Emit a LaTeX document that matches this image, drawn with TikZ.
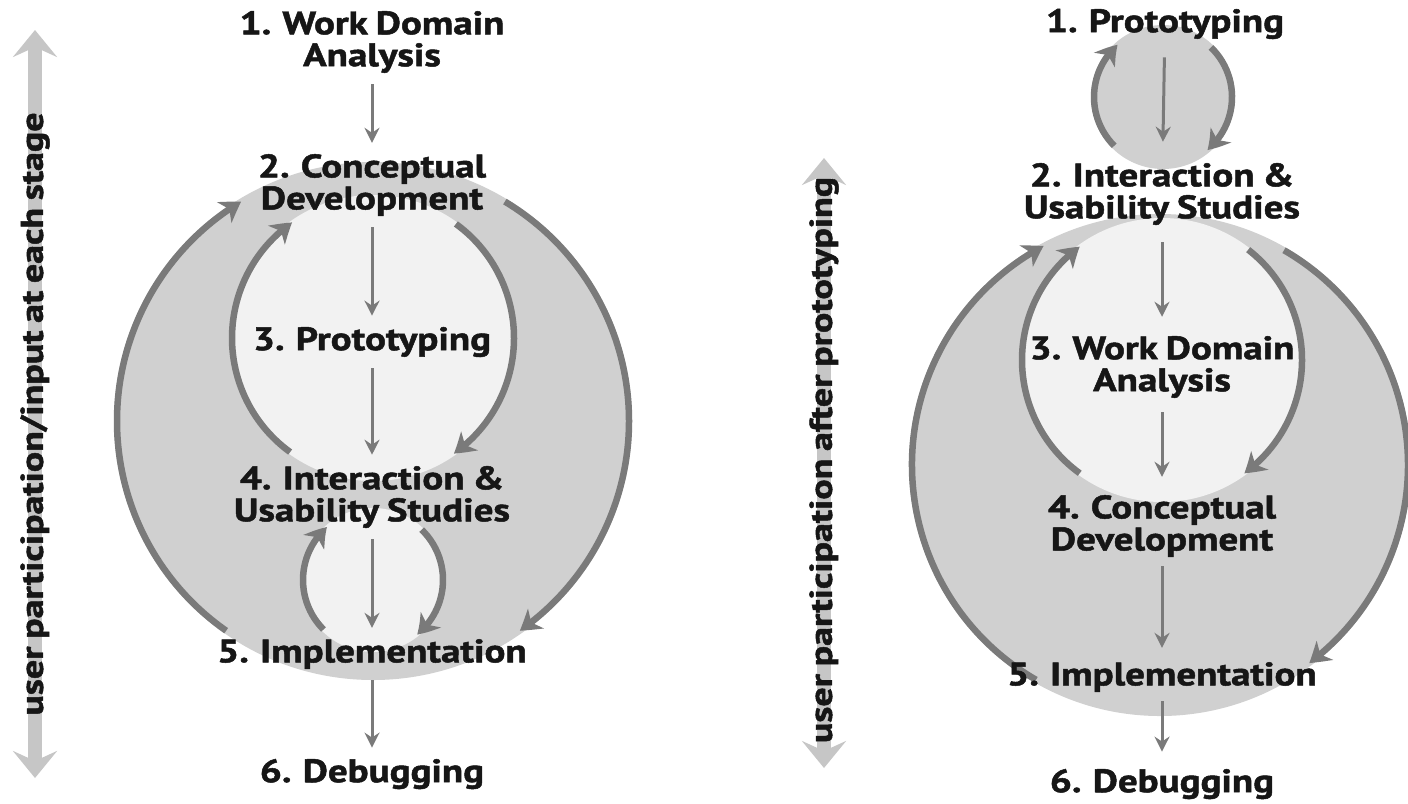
\documentclass[tikz,border=0pt]{standalone}
\usepackage{fontspec}
\setmainfont{PT Sans}[FakeStretch=1.2, WordSpace=0.8, BoldFeatures={FakeBold=1.5}]
\usepackage{tikz}
\usetikzlibrary{arrows.meta,bending,positioning}
\definecolor{diskGray}{RGB}{208,208,208}
\definecolor{diskLight}{RGB}{242,242,242}
\definecolor{arcGray}{RGB}{122,122,122}
\definecolor{sideGray}{RGB}{198,198,198}
\definecolor{textBlack}{RGB}{22,22,22}
\tikzset{stageText/.style={font=\fontsize{18.5}{18.2}\selectfont\bfseries, align=center, text=textBlack, inner sep=0pt}}
\tikzset{sideText/.style={font=\fontsize{18}{18}\selectfont\bfseries, rotate=90, text=textBlack, inner sep=0pt}}
\tikzset{stepArrow/.style={draw=arcGray, line width=0.6mm, -{Stealth[length=3mm,width=3mm,inset=1mm]}, shorten <=2.2mm, shorten >=2.2mm}}
\tikzset{loopArrow/.style={draw=arcGray, line width=1.3mm, -{Stealth[length=4mm,width=5mm,inset=1.2mm,bend]}}}
\tikzset{sideArrow/.style={draw=sideGray, line width=2.8mm, {Stealth[length=5.4mm,width=8.8mm,inset=2mm]}-{Stealth[length=5.4mm,width=8.8mm,inset=2mm]}}}

\begin{document}
\begin{tikzpicture}[x=0.2mm,y=0.2mm]
	\useasboundingbox (0,0) rectangle (1408,-803);

	% left: user participation at each stage
	\coordinate (outerL) at (373,-421);
	\coordinate (innerL) at (373,-338);
	\coordinate (lowerL) at (373,-580);
	\fill[diskGray](outerL) circle [radius=259];
	\fill[diskLight](innerL) circle [radius=143];
	\fill[diskLight](lowerL) circle [radius=72];

	\draw[loopArrow]([shift={(235:256)}]outerL) arc [start angle=235, end angle=121, radius=256];
	\draw[loopArrow]([shift={(59:256)}]outerL) arc [start angle=59, end angle=-55, radius=256];
	\draw[loopArrow]([shift={(234:141)}]innerL) arc [start angle=234, end angle=125, radius=141];
	\draw[loopArrow]([shift={(54:141)}]innerL) arc [start angle=54, end angle=-55, radius=141];
	\draw[loopArrow]([shift={(225:70)}]lowerL) arc [start angle=225, end angle=131, radius=70];
	\draw[loopArrow]([shift={(46:70)}]lowerL) arc [start angle=46, end angle=-51, radius=70];

	\node[stageText] (wdaL) at (372,-42) {1. Work Domain\\Analysis};
	\node[stageText] (cdL) at (372,-185) {2. Conceptual\\Development};
	\node[stageText] (protoL) at (372,-342) {3. Prototyping};
	\node[stageText] (iusL) at (372,-497) {4. Interaction \&\\Usability Studies};
	\node[stageText] (implL) at (372,-654) {5. Implementation};
	\node[stageText] (debugL) at (372,-774) {6. Debugging};

	\draw[stepArrow](wdaL) -- (cdL);
	\draw[stepArrow](cdL) -- (protoL);
	\draw[stepArrow](protoL) -- (iusL);
	\draw[stepArrow](iusL) -- (implL);
	\draw[stepArrow](implL) -- (debugL);

	\coordinate (sideTopL) at (35,-30);
	\coordinate (sideBotL) at (35,-778);
	\draw[sideArrow](sideTopL) -- (sideBotL);
	\node[sideText] (partL) at (35,-414) {user participation/input at each stage};

	% right: user participation after prototyping
	\coordinate (topR) at (1163,-97);
	\coordinate (outerR) at (1160,-465);
	\coordinate (innerR) at (1162,-360);
	\fill[diskGray](topR) circle [radius=72];
	\fill[diskGray](outerR) circle [radius=251];
	\fill[diskLight](innerR) circle [radius=142];

	\draw[loopArrow]([shift={(225:69)}]topR) arc [start angle=225, end angle=131, radius=69];
	\draw[loopArrow]([shift={(46:69)}]topR) arc [start angle=46, end angle=-50, radius=69];
	\draw[loopArrow]([shift={(240:248)}]outerR) arc [start angle=240, end angle=118, radius=248];
	\draw[loopArrow]([shift={(60:248)}]outerR) arc [start angle=60, end angle=-53, radius=248];
	\draw[loopArrow]([shift={(234:140)}]innerR) arc [start angle=234, end angle=126, radius=140];
	\draw[loopArrow]([shift={(52:140)}]innerR) arc [start angle=52, end angle=-54, radius=140];

	\node[stageText] (protoR) at (1165,-24) {1. Prototyping};
	\node[stageText] (iusR) at (1162,-194) {2. Interaction \&\\Usability Studies};
	\node[stageText] (wdaR) at (1162,-367) {3. Work Domain\\Analysis};
	\node[stageText] (cdR) at (1162,-526) {4. Conceptual\\Development};
	\node[stageText] (implR) at (1162,-677) {5. Implementation};
	\node[stageText] (debugR) at (1162,-784) {6. Debugging};

	\draw[stepArrow, shorten <=3.6mm, shorten >=4.2mm](protoR) -- (iusR);
	\draw[stepArrow, shorten <=3.4mm, shorten >=3.8mm](iusR) -- (wdaR);
	\draw[stepArrow, shorten <=2.8mm, shorten >=3.6mm](wdaR) -- (cdR);
	\draw[stepArrow, shorten <=1.8mm, shorten >=2.8mm](cdR) -- (implR);
	\draw[stepArrow, shorten <=1.8mm, shorten >=3.4mm](implR) -- (debugR);

	\coordinate (sideTopR) at (824,-158);
	\coordinate (sideBotR) at (824,-768);
	\draw[sideArrow](sideTopR) -- (sideBotR);
	\node[sideText] (partR) at (824,-460) {user participation after prototyping};
\end{tikzpicture}
\end{document}
